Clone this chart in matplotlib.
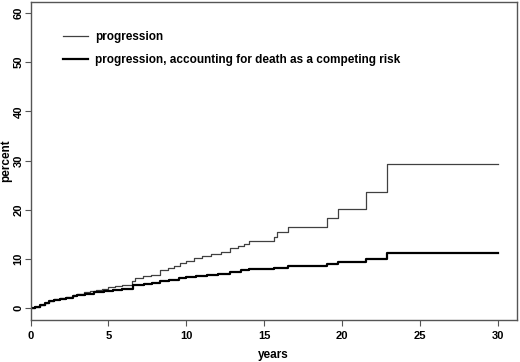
import matplotlib
matplotlib.use('Agg')
import matplotlib.pyplot as plt

plt.rcParams['font.family'] = ['Liberation Sans', 'DejaVu Sans']
plt.rcParams['font.weight'] = 'bold'

# cumulative incidence of progression (Kaplan-Meier complement), percent
prog_years = [0, 0.3, 0.6, 0.9, 1.2, 1.5, 1.9, 2.3, 2.7, 3.0, 3.4, 3.8, 4.2, 4.6,
              5.0, 5.4, 5.9, 6.5, 6.7, 7.2, 7.7, 8.3, 8.8, 9.2, 9.6, 10.0, 10.5,
              11.0, 11.6, 12.2, 12.8, 13.3, 13.7, 14.0, 15.6, 15.8, 16.5, 19.0,
              19.7, 21.5, 22.9, 30.0]
prog_pct = [0, 0.3, 0.7, 1.1, 1.5, 1.8, 2.0, 2.3, 2.6, 2.9, 3.2, 3.5, 3.7, 4.0,
            4.3, 4.6, 4.8, 5.5, 6.2, 6.5, 6.8, 7.8, 8.2, 8.6, 9.2, 9.6, 10.3,
            10.6, 11.0, 11.4, 12.2, 12.6, 13.1, 13.7, 14.5, 15.5, 16.5, 18.3,
            20.1, 23.6, 29.3, 29.3]

# progression with death as a competing risk
comp_years = [0, 0.3, 0.6, 0.9, 1.2, 1.5, 1.9, 2.3, 2.7, 3.0, 3.5, 4.1, 4.7, 5.3,
              5.9, 6.6, 7.3, 7.8, 8.3, 8.9, 9.5, 10.0, 10.6, 11.3, 12.0, 12.8,
              13.5, 14.0, 15.6, 16.5, 19.0, 19.7, 21.5, 22.9, 30.0]
comp_pct = [0, 0.3, 0.7, 1.1, 1.5, 1.7, 1.9, 2.1, 2.4, 2.6, 2.9, 3.2, 3.5, 3.7,
            4.0, 4.7, 4.9, 5.1, 5.6, 5.8, 6.1, 6.4, 6.6, 6.8, 7.0, 7.4,
            7.7, 8.0, 8.2, 8.6, 9.0, 9.4, 10.0, 11.2, 11.2]

labels = ['progression', 'progression, accounting for death as a competing risk']

fig = plt.figure(figsize=(5.2, 3.62), dpi=100)
ax = fig.add_axes([0.0587, 0.116, 0.935, 0.878])

ax.step(prog_years, prog_pct, where='post', color='#404040', lw=0.9, label=labels[0])
ax.step(comp_years, comp_pct, where='post', color='black', lw=1.6, label=labels[1])

ax.set_xlim(0, 31.2)
ax.set_ylim(-2.4, 62.2)
ax.set_xticks([0, 5, 10, 15, 20, 25, 30])
ax.set_yticks([0, 10, 20, 30, 40, 50, 60])
ax.tick_params(axis='both', labelsize=8, length=4, width=0.8, color='#555555')
ax.tick_params(axis='y', pad=1)
ax.tick_params(axis='x', pad=4)
for t in ax.get_yticklabels():
    t.set_rotation(90)
    t.set_va('center')
for s in ax.spines.values():
    s.set_color('#555555')
    s.set_linewidth(1.0)

ax.set_xlabel('years', fontsize=8.5, fontweight='bold', labelpad=6)
ax.set_ylabel('percent', fontsize=8.5, fontweight='bold', labelpad=1)

ax.legend(loc='upper left', bbox_to_anchor=(0.067, 0.91), frameon=False,
          fontsize=8.5, handlelength=2.1, handletextpad=0.6, labelspacing=0.95,
          borderpad=0, borderaxespad=0)

fig.savefig('out.png', dpi=100)
